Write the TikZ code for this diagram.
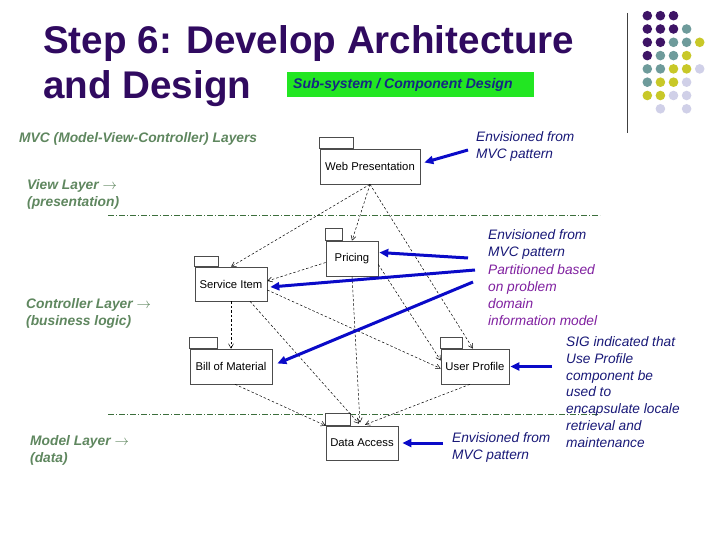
\documentclass[tikz,border=0pt]{standalone}
\usepackage{fontspec}
\setmainfont{Liberation Sans}
\usetikzlibrary{arrows.meta,calc}
\definecolor{titlecol}{RGB}{48,10,96}
\definecolor{subgreen}{RGB}{34,230,34}
\definecolor{subblue}{RGB}{20,40,130}
\definecolor{mvcgreen}{RGB}{95,135,95}
\definecolor{layergreen}{RGB}{60,110,60}
\definecolor{annnavy}{RGB}{25,25,120}
\definecolor{annpurple}{RGB}{128,32,160}
\definecolor{arrblue}{RGB}{10,10,200}
\definecolor{dpurple}{RGB}{62,20,102}
\definecolor{dteal}{RGB}{110,155,155}
\definecolor{dyellow}{RGB}{200,200,40}
\definecolor{dlav}{RGB}{208,208,232}
\begin{document}
\begin{tikzpicture}[x=1pt,y=-1pt,
  titletext/.style={font=\fontsize{38.6}{45}\selectfont\bfseries, text=titlecol, inner sep=0pt, anchor=base west},
  greentext/.style={font=\fontsize{13.8}{17}\selectfont\bfseries\itshape, text=mvcgreen, inner sep=0pt, anchor=base west, align=left},
  anntext/.style={font=\fontsize{13.7}{17}\selectfont\itshape, text=annnavy, inner sep=0pt, anchor=base west, align=left},
  pkg/.style={draw=black!70, line width=0.6pt, fill=white, inner sep=0pt, font=\fontsize{11.3}{13}\selectfont},
  pkgtab/.style={draw=black!70, line width=0.6pt, fill=white},
  dep/.style={draw=black, line width=0.5pt, dash pattern=on 2.5pt off 2pt, -{Straight Barb[length=4.5pt,width=5pt]}},
  annarrow/.style={draw=arrblue, line width=3pt, -{Triangle[length=9pt,width=8pt]}},
  layerline/.style={draw=layergreen, line width=0.6pt, dash pattern=on 6pt off 2pt on 1pt off 2pt}
]
\useasboundingbox[fill=white] (0,0) rectangle (720,540);

% title
\node[titletext] (t1) at (43,54) {Step 6: Develop Architecture};
\node[titletext] (t2) at (43,99) {and Design};
\node[fill=subgreen, minimum width=247pt, minimum height=25pt, inner sep=0pt, anchor=north west] (sub) at (287,72) {};
\node[font=\fontsize{14}{16}\selectfont\bfseries\itshape, text=subblue, inner sep=0pt, anchor=west] (subt) at ($(sub.west)+(6,0)$) {Sub-system / Component Design};

% decoration dots
\draw[black!75, line width=1pt] (627,13) -- (627,133);
\foreach \r/\c/\col in {0/0/dpurple,0/1/dpurple,0/2/dpurple,
  1/0/dpurple,1/1/dpurple,1/2/dpurple,1/3/dteal,
  2/0/dpurple,2/1/dpurple,2/2/dteal,2/3/dteal,2/4/dyellow,
  3/0/dpurple,3/1/dteal,3/2/dteal,3/3/dyellow,
  4/0/dteal,4/1/dteal,4/2/dyellow,4/3/dyellow,4/4/dlav,
  5/0/dteal,5/1/dyellow,5/2/dyellow,5/3/dlav,
  6/0/dyellow,6/1/dyellow,6/2/dlav,6/3/dlav,
  7/1/dlav,7/3/dlav}
  \fill[\col] ({647.3+13.1*\c},{15.7+13.3*\r}) circle (4.8pt);

% left labels (base anchor = baseline of last line)
\node[greentext] (mvc) at (19,143) {MVC (Model-View-Controller) Layers};
\node[greentext] (view) at (27,207) {View Layer $\rightarrow$\\(presentation)};
\node[greentext] (ctrl) at (26,325) {Controller Layer $\rightarrow$\\(business logic)};
\node[greentext] (model) at (30,462) {Model Layer $\rightarrow$\\(data)};

% layer separators
\draw[layerline] (108,215) -- (600,215);
\draw[layerline] (108,414) -- (600,414);

% packages
\node[pkg, minimum width=100pt, minimum height=35pt] (web) at (370,166.5) {Web Presentation};
\draw[pkgtab] (web.north west) rectangle ++(34,-11);
\node[pkg, minimum width=52pt, minimum height=35pt] (pricing) at (352,258.5) {Pricing};
\draw[pkgtab] (pricing.north west) rectangle ++(17,-12);
\node[pkg, minimum width=72pt, minimum height=34pt] (service) at (231,284) {Service Item};
\draw[pkgtab] (service.north west) rectangle ++(24,-10);
\node[pkg, minimum width=82pt, minimum height=35pt] (bill) at (231,366.5) {Bill of Material};
\draw[pkgtab] (bill.north west) rectangle ++(28,-11);
\node[pkg, minimum width=68pt, minimum height=35pt] (user) at (475,366.5) {User Profile};
\draw[pkgtab] (user.north west) rectangle ++(22,-11);
\node[pkg, minimum width=72pt, minimum height=34pt] (data) at (362,443) {Data Access};
\draw[pkgtab] (data.north west) rectangle ++(25,-12);

% dependencies
\draw[dep] (web.south) -- (service.north);
\draw[dep] (web.south) -- (pricing.north);
\draw[dep] (web.south) -- ($(user.north)+(-2,0)$);
\draw[dep] ($(pricing.west)+(0,4)$) -- ($(service.east)+(0,-3)$);
\draw[dep] (pricing.south) -- ($(data.north)+(-2,-3)$);
\draw[dep] ($(pricing.east)+(0,6)$) -- ($(user.west)+(0,-6)$);
\draw[dep] (service.south) -- (bill.north);
\draw[dep] ($(service.south)+(19,0)$) -- ($(data.north)+(-3,-2)$);
\draw[dep] ($(service.east)+(0,6)$) -- ($(user.west)+(0,2)$);
\draw[dep] ($(bill.south)+(4,0)$) -- (data.north west);
\draw[dep] ($(user.south)+(-5,0)$) -- ($(data.north)+(3,-1)$);

% annotations (base anchor = baseline of last line)
\node[anntext] (n1) at (476,159) {Envisioned from\\MVC pattern};
\node[anntext] (n2) at (488,256) {Envisioned from\\MVC pattern};
\node[anntext, text=annpurple] (n3) at (488,325) {Partitioned based\\on problem\\domain\\information model};
\node[anntext, font=\fontsize{13.7}{16.7}\selectfont\itshape] (n4) at (566,447) {SIG indicated that\\Use Profile\\component be\\used to\\encapsulate locale\\retrieval and\\maintenance};
\node[anntext] (n5) at (452,459) {Envisioned from\\MVC pattern};

\coordinate (a1) at (468,150);
\coordinate (a2) at (468,258);
\coordinate (a3) at (475,270);
\coordinate (a4) at (473,282);
\coordinate (a5) at (552,366.5);
\coordinate (a6) at (443,443);
\draw[annarrow] (a1) -- ($(web.east)+(4,-4)$);
\draw[annarrow] (a2) -- ($(pricing.east)+(1,-6)$);
\draw[annarrow] (a3) -- ($(service.east)+(3,3)$);
\draw[annarrow] (a4) -- ($(bill.east)+(5,-3)$);
\draw[annarrow] (a5) -- ($(user.east)+(1,0)$);
\draw[annarrow] (a6) -- ($(data.east)+(4,0)$);
\end{tikzpicture}
\end{document}
